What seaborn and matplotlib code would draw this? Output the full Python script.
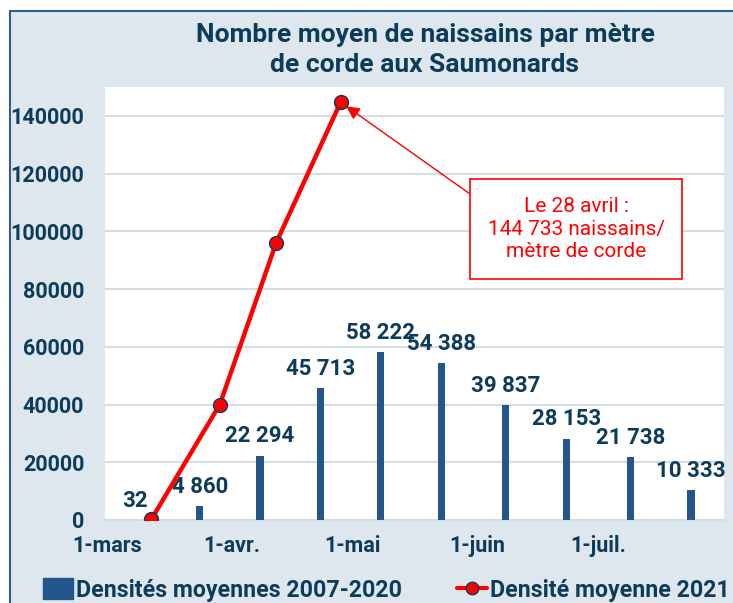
import pandas as pd
import numpy as np
import matplotlib
matplotlib.use('Agg')
import matplotlib.pyplot as plt
import matplotlib.dates as mdates
from matplotlib.patches import Rectangle, Patch
from matplotlib.lines import Line2D
import seaborn as sns

# Data
bar_dates = ['2021-03-08', '2021-03-24', '2021-04-08', '2021-04-23', '2021-05-08',
             '2021-05-23', '2021-06-08', '2021-06-23', '2021-07-09', '2021-07-24']
bar_values = [32, 4860, 22294, 45713, 58222, 54388, 39837, 28153, 21738, 10333]
line_dates = ['2021-03-12', '2021-03-29', '2021-04-12', '2021-04-28']
line_values = [200, 40000, 96000, 144733]
tick_dates = ['2021-03-01', '2021-04-01', '2021-05-01', '2021-06-01', '2021-07-01']
tick_labels = ['1-mars', '1-avr.', '1-mai', '1-juin', '1-juil.']
y_ticks = [0, 20000, 40000, 60000, 80000, 100000, 120000, 140000]

title = 'Nombre moyen de naissains par mètre\nde corde aux Saumonards'
bar_name = 'Densités moyennes 2007-2020'
line_name = 'Densité moyenne 2021'
note = 'Le 28 avril :\n144 733 naissains/\nmètre de corde'

navy = '#0d3c5b'
bar_color = '#23568c'
red = '#ff0000'
bg = '#dfe7ee'
grid_color = '#d3dde6'

sns.set_theme(style='white')
plt.rcParams['font.family'] = ['Roboto', 'DejaVu Sans']

bars = pd.DataFrame({'date': mdates.date2num(pd.to_datetime(bar_dates)), 'value': bar_values})
line = pd.DataFrame({'date': mdates.date2num(pd.to_datetime(line_dates)), 'value': line_values})

fig = plt.figure(figsize=(7.33, 6.03), dpi=100, facecolor='white')
# light panel with dark border behind everything
fig.patches.append(Rectangle((10 / 733, -0.1), 1.0, (603 - 11) / 603 + 0.1,
                             transform=fig.transFigure, facecolor=bg,
                             edgecolor='#2f5f8c', lw=1.5, zorder=-10))
ax = fig.add_axes([105 / 733, 83 / 603, 619 / 733, 433 / 603])
ax.set_facecolor('white')

sns.barplot(data=bars, x='date', y='value', native_scale=True, width=0.12,
            color=bar_color, saturation=1, linewidth=0, ax=ax, zorder=3)
sns.lineplot(data=line, x='date', y='value', color=red, lw=3.2, marker='o',
             markersize=10, markerfacecolor=red, markeredgecolor=navy,
             markeredgewidth=1.0, ax=ax, zorder=5, legend=False)

# value labels above bars
for d, v in zip(bars['date'], bars['value']):
    ax.annotate(f'{v:,}'.replace(',', ' '), (d, v), xytext=(0, 6),
                textcoords='offset points', ha='center', va='bottom',
                fontsize=16, fontweight='bold', color=navy)

# callout for the peak
ax.annotate(note, xy=(line['date'].iloc[-1], line['value'].iloc[-1]),
            xytext=(0.761, 0.672), textcoords='axes fraction',
            ha='center', va='center', fontsize=15, color=red, linespacing=1.25,
            bbox=dict(boxstyle='square,pad=0.85', fc='white', ec=red, lw=1.2),
            arrowprops=dict(arrowstyle='-|>', color=red, lw=1, mutation_scale=20,
                            shrinkA=0, shrinkB=5, relpos=(0, 0.85)),
            zorder=6)

ax.set_ylim(0, 150000)
ax.set_xlim(mdates.date2num(pd.Timestamp('2021-03-01')) - 0.5,
            mdates.date2num(pd.Timestamp('2021-08-01')) + 0.2)
ax.set_yticks(y_ticks)
ax.set_yticklabels([str(t) for t in y_ticks])
ax.set_xticks(mdates.date2num(pd.to_datetime(tick_dates)))
ax.set_xticklabels(tick_labels)
ax.set_xlabel('')
ax.set_ylabel('')
ax.tick_params(axis='both', length=0, labelsize=15.5, labelcolor=navy)
ax.tick_params(axis='y', pad=15)
ax.tick_params(axis='x', pad=11)
for lbl in ax.get_xticklabels() + ax.get_yticklabels():
    lbl.set_fontweight('bold')

ax.yaxis.grid(True, color=grid_color, lw=1.5)
ax.set_axisbelow(True)
for s in ['top', 'right', 'left']:
    ax.spines[s].set_visible(False)
ax.spines['bottom'].set_color(grid_color)
ax.spines['bottom'].set_linewidth(1.5)

fig.text(425 / 733, (603 - 50) / 603, title, ha='center', va='center',
         fontsize=19, fontweight='bold', color=navy, linespacing=1.35)

handles = [Patch(color=bar_color),
           Line2D([], [], color=red, lw=3, marker='o', markerfacecolor=red,
                  markeredgecolor=navy, markersize=9)]
fig.legend(handles, [bar_name, line_name], loc='center',
           bbox_to_anchor=(0.527, 13 / 603), ncol=2, frameon=False,
           prop={'weight': 'bold', 'size': 16.7}, labelcolor=navy,
           handlelength=1.3, handleheight=1.0, handletextpad=0.1,
           columnspacing=2.4)

fig.savefig('out.png', dpi=100)
